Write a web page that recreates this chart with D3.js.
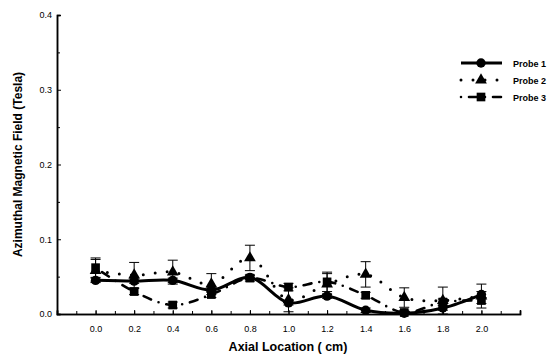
<!DOCTYPE html>
<html>
<head>
<meta charset="utf-8">
<script src="https://cdn.jsdelivr.net/npm/d3@7"></script>
<style>
  body { margin: 0; background: #fff; }
  text { font-family: "Liberation Sans", Arial, sans-serif; fill: #000; }
</style>
</head>
<body>
<svg id="chart" width="555" height="358"></svg>
<script>
// values
var locations = [0.0, 0.2, 0.4, 0.6, 0.8, 1.0, 1.2, 1.4, 1.6, 1.8, 2.0];
var probe1 = [0.045, 0.044, 0.045, 0.032, 0.049, 0.015, 0.024, 0.005, 0.001, 0.008, 0.026];
var probe1_err = [0.003, 0.003, 0.003, 0.003, 0.003, 0.003, 0.003, 0.003, 0.002, 0.003, 0.004];
var probe2 = [0.058, 0.052, 0.056, 0.040, 0.075, 0.019, 0.040, 0.053, 0.022, 0.018, 0.024];
var probe2_err = [0.015, 0.017, 0.016, 0.014, 0.017, 0.016, 0.014, 0.017, 0.013, 0.018, 0.016];
var probe3 = [0.062, 0.030, 0.012, 0.026, 0.048, 0.036, 0.043, 0.025, 0.002, 0.016, 0.018];
var probe3_err = [0.013, 0.004, 0.004, 0.004, 0.004, 0.005, 0.013, 0.004, 0.003, 0.004, 0.004];
var series_names = ["Probe 1", "Probe 2", "Probe 3"];
var x_ticks = [0.0, 0.2, 0.4, 0.6, 0.8, 1.0, 1.2, 1.4, 1.6, 1.8, 2.0];
var y_ticks = [0.0, 0.1, 0.2, 0.3, 0.4];

var svg = d3.select("#chart");
var plot_left = 57, plot_right = 520, plot_top = 15, plot_bottom = 314;

var x = d3.scaleLinear().domain([-0.2, 2.2]).range([plot_left, plot_right]);
var y = d3.scaleLinear().domain([0, 0.4]).range([plot_bottom, plot_top]);

/*************************** axes ***************************/

var xAxis = svg.append("g").attr("transform", "translate(0," + plot_bottom + ")");
xAxis.call(d3.axisBottom(x).tickValues(d3.range(-0.1, 2.25, 0.1)).tickSize(-3).tickFormat(""));
xAxis.append("g").call(d3.axisBottom(x).tickValues(x_ticks).tickSize(-4).tickPadding(12).tickFormat(d3.format(".1f")));
xAxis.selectAll("path.domain").attr("stroke", "#000").attr("stroke-width", 1.5);
xAxis.selectAll("text").style("font-size", "9px").style("font-family", "Liberation Sans, Arial, sans-serif");

var yAxis = svg.append("g").attr("transform", "translate(" + plot_left + ",0)");
yAxis.call(d3.axisLeft(y).tickValues(d3.range(0.05, 0.4, 0.1)).tickSize(-3).tickFormat(""));
yAxis.append("g").call(d3.axisLeft(y).tickValues(y_ticks).tickSize(-4).tickPadding(5).tickFormat(d3.format(".1f")));
yAxis.selectAll("path.domain").attr("stroke", "#000").attr("stroke-width", 1.5);
yAxis.selectAll("text").style("font-size", "9px").style("font-family", "Liberation Sans, Arial, sans-serif");

svg.append("text")
  .attr("transform", "translate(22," + (plot_top + plot_bottom) / 2 + ") rotate(-90)")
  .attr("text-anchor", "middle")
  .style("font-size", "12px").style("font-weight", "bold")
  .text("Azimuthal Magnetic Field (Tesla)");

svg.append("text")
  .attr("x", 288).attr("y", 351)
  .attr("text-anchor", "middle")
  .style("font-size", "12.5px").style("font-weight", "bold")
  .text("Axial Location ( cm)");

/*************************** series ***************************/

var series = [
  { name: series_names[0], values: probe1, err: probe1_err, shape: d3.symbolCircle, size: 70, dash: null, width: 3, cap: "butt" },
  { name: series_names[1], values: probe2, err: probe2_err, shape: d3.symbolTriangle, size: 60, dash: "0,12", width: 3, cap: "round" },
  { name: series_names[2], values: probe3, err: probe3_err, shape: d3.symbolSquare, size: 75, dash: "0,8,8,8", width: 2.6, cap: "round" }
];

var line = d3.line()
  .x(function(d){ return x(d[0]); })
  .y(function(d){ return y(d[1]); })
  .curve(d3.curveCatmullRom.alpha(0.5));

series.slice().reverse().forEach(function(s){
  var pts = locations.map(function(l, i){ return [l, s.values[i], s.err[i]]; });

  svg.append("path").datum(pts)
    .attr("d", line)
    .attr("fill", "none")
    .attr("stroke", "#000")
    .attr("stroke-width", s.width)
    .attr("stroke-linecap", s.cap)
    .attr("stroke-dasharray", s.dash);

  var eb = svg.append("g").selectAll("g").data(pts).enter().append("g");
  eb.append("line")
    .attr("x1", function(d){ return x(d[0]); }).attr("x2", function(d){ return x(d[0]); })
    .attr("y1", function(d){ return y(d[1] + d[2]); }).attr("y2", function(d){ return y(Math.max(0, d[1] - d[2])); })
    .attr("stroke", "#000").attr("stroke-width", 1);
  eb.append("line")
    .attr("x1", function(d){ return x(d[0]) - 5; }).attr("x2", function(d){ return x(d[0]) + 5; })
    .attr("y1", function(d){ return y(d[1] + d[2]); }).attr("y2", function(d){ return y(d[1] + d[2]); })
    .attr("stroke", "#000").attr("stroke-width", 1);
  eb.append("line")
    .attr("x1", function(d){ return x(d[0]) - 5; }).attr("x2", function(d){ return x(d[0]) + 5; })
    .attr("y1", function(d){ return y(Math.max(0, d[1] - d[2])); }).attr("y2", function(d){ return y(Math.max(0, d[1] - d[2])); })
    .attr("stroke", "#000").attr("stroke-width", 1);

  svg.append("g").selectAll("path").data(pts).enter().append("path")
    .attr("d", d3.symbol().type(s.shape).size(s.size))
    .attr("transform", function(d){ return "translate(" + x(d[0]) + "," + y(d[1]) + ")"; })
    .attr("fill", "#000");
});

/*************************** legend ***************************/

var legend = svg.append("g").attr("transform", "translate(461,63)");
series.forEach(function(s, i){
  var row = legend.append("g").attr("transform", "translate(0," + (i * 17) + ")");
  row.append("line")
    .attr("x1", 0).attr("x2", 41).attr("y1", 0).attr("y2", 0)
    .attr("stroke", "#000").attr("stroke-width", s.width)
    .attr("stroke-linecap", s.cap)
    .attr("stroke-dasharray", s.dash);
  row.append("path")
    .attr("d", d3.symbol().type(s.shape).size(s.size))
    .attr("transform", "translate(20,0)")
    .attr("fill", "#000");
  row.append("text")
    .attr("x", 52).attr("y", 3.5)
    .style("font-size", "9px").style("font-weight", "bold")
    .text(s.name);
});
</script>
</body>
</html>
